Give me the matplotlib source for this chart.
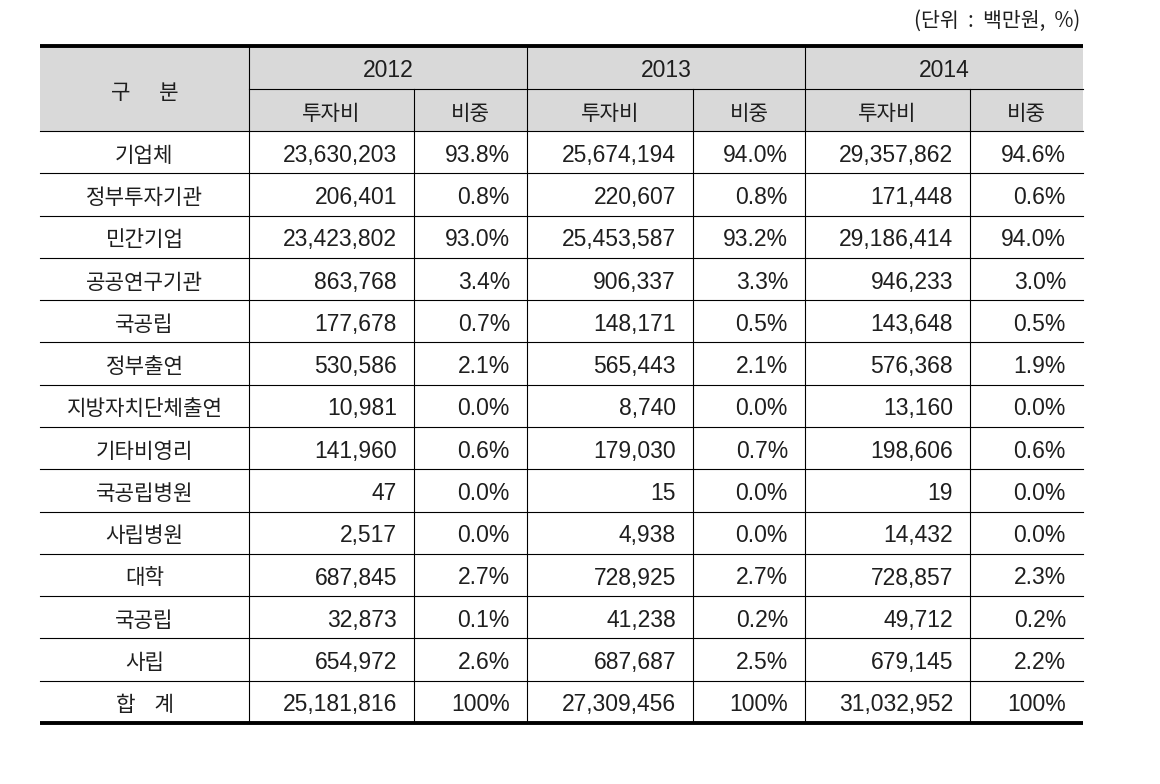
import matplotlib.pyplot as plt
from matplotlib.patches import Rectangle

plt.rcParams["font.family"] = ["Noto Sans CJK KR", "DejaVu Sans"]

categories = ["기업체", "정부투자기관", "민간기업", "공공연구기관", "국공립", "정부출연",
              "지방자치단체출연", "기타비영리", "국공립병원", "사립병원", "대학", "국공립",
              "사립", "합    계"]
years = ["2012", "2013", "2014"]
inv_2012 = [23630203, 206401, 23423802, 863768, 177678, 530586, 10981, 141960, 47, 2517,
            687845, 32873, 654972, 25181816]
share_2012 = [93.8, 0.8, 93.0, 3.4, 0.7, 2.1, 0.0, 0.6, 0.0, 0.0, 2.7, 0.1, 2.6, 100]
inv_2013 = [25674194, 220607, 25453587, 906337, 148171, 565443, 8740, 179030, 15, 4938,
            728925, 41238, 687687, 27309456]
share_2013 = [94.0, 0.8, 93.2, 3.3, 0.5, 2.1, 0.0, 0.7, 0.0, 0.0, 2.7, 0.2, 2.5, 100]
inv_2014 = [29357862, 171448, 29186414, 946233, 143648, 576368, 13160, 198606, 19, 14432,
            728857, 49712, 679145, 31032952]
share_2014 = [94.6, 0.6, 94.0, 3.0, 0.5, 1.9, 0.0, 0.6, 0.0, 0.0, 2.3, 0.2, 2.2, 100]
sub_headers = ["투자비", "비중"]
unit_text = "(단위  :  백만원,  %)"

investments = [inv_2012, inv_2013, inv_2014]
shares = [share_2012, share_2013, share_2014]

# layout in pixel units
W, H = 1160, 784
col_x = [40, 249, 414, 527, 693, 805, 970, 1083]
top, h1, h2 = 46, 89, 131
bottom = 723
row_h = (bottom - h2) / len(categories)
fs_kr = 15.3
fs_num = 16.5
kr = ["Noto Sans CJK KR", "DejaVu Sans"]
num = ["Liberation Sans", "DejaVu Sans"]
color = "#1e1e1e"
base = 9.5  # baseline offset below cell centre

fig = plt.figure(figsize=(W / 100, H / 100), dpi=100)
ax = fig.add_axes([0, 0, 1, 1])
ax.set_xlim(0, W)
ax.set_ylim(H, 0)
ax.axis("off")

# header background
ax.add_patch(Rectangle((col_x[0], top), col_x[-1] - col_x[0], h2 - top,
                       facecolor="#d9d9d9", edgecolor="none"))

# horizontal lines
ax.plot([col_x[1], col_x[-1]], [h1, h1], color="black", lw=0.8)
for i in range(len(categories)):
    y = h2 + i * row_h
    ax.plot([col_x[0], col_x[-1]], [y, y], color="black", lw=0.8)

# vertical lines
for j, x in enumerate(col_x[1:-1], start=1):
    y0 = top if j % 2 == 1 else h1
    ax.plot([x, x], [y0, bottom], color="black", lw=0.8)

ax.plot([col_x[0], col_x[-1]], [top, top], color="black", lw=2.8, solid_capstyle="butt")
ax.plot([col_x[0], col_x[-1]], [bottom, bottom], color="black", lw=2.8, solid_capstyle="butt")

# header text
ax.text((col_x[0] + col_x[1]) / 2, (top + h2) / 2 + base + 1, "구      분", ha="center",
        va="baseline", fontsize=fs_kr, family=kr, color=color)
for k, yr in enumerate(years):
    xa, xb, xc = col_x[1 + 2 * k], col_x[2 + 2 * k], col_x[3 + 2 * k]
    ax.text((xa + xc) / 2, (top + h1) / 2 + base, yr, ha="center", va="baseline",
            fontsize=fs_num, family=num, color=color)
    ax.text((xa + xb) / 2, (h1 + h2) / 2 + base, sub_headers[0], ha="center", va="baseline",
            fontsize=fs_kr, family=kr, color=color)
    ax.text((xb + xc) / 2, (h1 + h2) / 2 + base, sub_headers[1], ha="center", va="baseline",
            fontsize=fs_kr, family=kr, color=color)

# body
for i, cat in enumerate(categories):
    yc = h2 + (i + 0.5) * row_h
    ax.text((col_x[0] + col_x[1]) / 2, yc + base, cat, ha="center", va="baseline",
            fontsize=fs_kr, family=kr, color=color)
    for k in range(3):
        v = investments[k][i]
        s = shares[k][i]
        ax.text(col_x[2 + 2 * k] - 17, yc + base, f"{v:,}", ha="right", va="baseline",
                fontsize=fs_num, family=num, color=color)
        st = "100%" if s >= 100 else f"{s:.1f}%"
        ax.text(col_x[3 + 2 * k] - 17, yc + base, st, ha="right", va="baseline",
                fontsize=fs_num, family=num, color=color)

ax.text(1080, 27, unit_text, ha="right", va="baseline", fontsize=fs_kr - 0.5, family=kr,
        color=color)

fig.savefig("out.png", dpi=100)
